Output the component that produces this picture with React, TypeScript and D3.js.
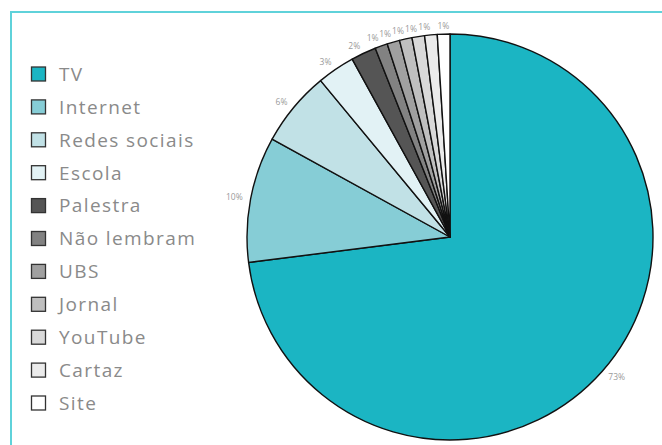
import React from "react";
import * as d3 from "d3";

const categories = ["TV", "Internet", "Redes sociais", "Escola", "Palestra", "Não lembram", "UBS", "Jornal", "YouTube", "Cartaz", "Site"];
const values = [73, 10, 6, 3, 2, 1, 1, 1, 1, 1, 1];
const labels = ["73%", "10%", "6%", "3%", "2%", "1%", "1%", "1%", "1%", "1%", "1%"];
const colors = ["#1bb5c3", "#86cdd6", "#c1e1e6", "#e2f2f5", "#555555", "#828282", "#a0a0a0", "#bfbfbf", "#d9d9d9", "#ebebeb", "#ffffff"];

const W = 662;
const H = 445;

export default function App() {
  const cx = 450;
  const cy = 237;
  const r = 203;
  const data = categories.map((c, i) => ({ name: c, value: values[i], label: labels[i], color: colors[i] }));
  const pie = d3.pie<any>().sort(null).value((d: any) => d.value);
  const arcs = pie(data);
  const arcGen = d3.arc<any>().innerRadius(0).outerRadius(r);

  const legendY = d3.scaleLinear().domain([0, categories.length - 1]).range([74, 403]);

  return (
    <svg width={W} height={H} style={{ position: "absolute", left: 0, top: 0, background: "#fff" }}>
      <rect x={11} y={12} width={800} height={600} fill="none" stroke="#5fd2da" strokeWidth={2} />
      <g transform={`translate(${cx},${cy})`}>
        {arcs.map((a, i) => (
          <path key={i} d={arcGen(a) as string} fill={a.data.color} stroke="#111" strokeWidth={1.4} strokeLinejoin="round" />
        ))}
        {arcs.map((a, i) => {
          const mid = (a.startAngle + a.endAngle) / 2;
          const lr = r + 8;
          const x = Math.sin(mid) * lr;
          const y = -Math.cos(mid) * lr;
          const right = Math.sin(mid) > 0.05;
          const left = Math.sin(mid) < -0.05;
          return (
            <text
              key={"l" + i}
              x={x}
              y={y}
              dy="0.35em"
              textAnchor={right ? "start" : left ? "end" : "middle"}
              fontFamily="'Open Sans', sans-serif"
              fontSize={8.5}
              fill="#9a9a9a"
            >
              {a.data.label}
            </text>
          );
        })}
      </g>
      <g>
        {data.map((d, i) => (
          <g key={d.name} transform={`translate(31,${legendY(i)})`}>
            <rect x={0.5} y={-7} width={14} height={14} fill={d.color} stroke="#333" strokeWidth={1.3} />
            <text x={28} y={0} dy="0.36em" fontFamily="'Open Sans', sans-serif" fontSize={19} letterSpacing={1.4} fill="#8a8a8a">
              {d.name}
            </text>
          </g>
        ))}
      </g>
    </svg>
  );
}
